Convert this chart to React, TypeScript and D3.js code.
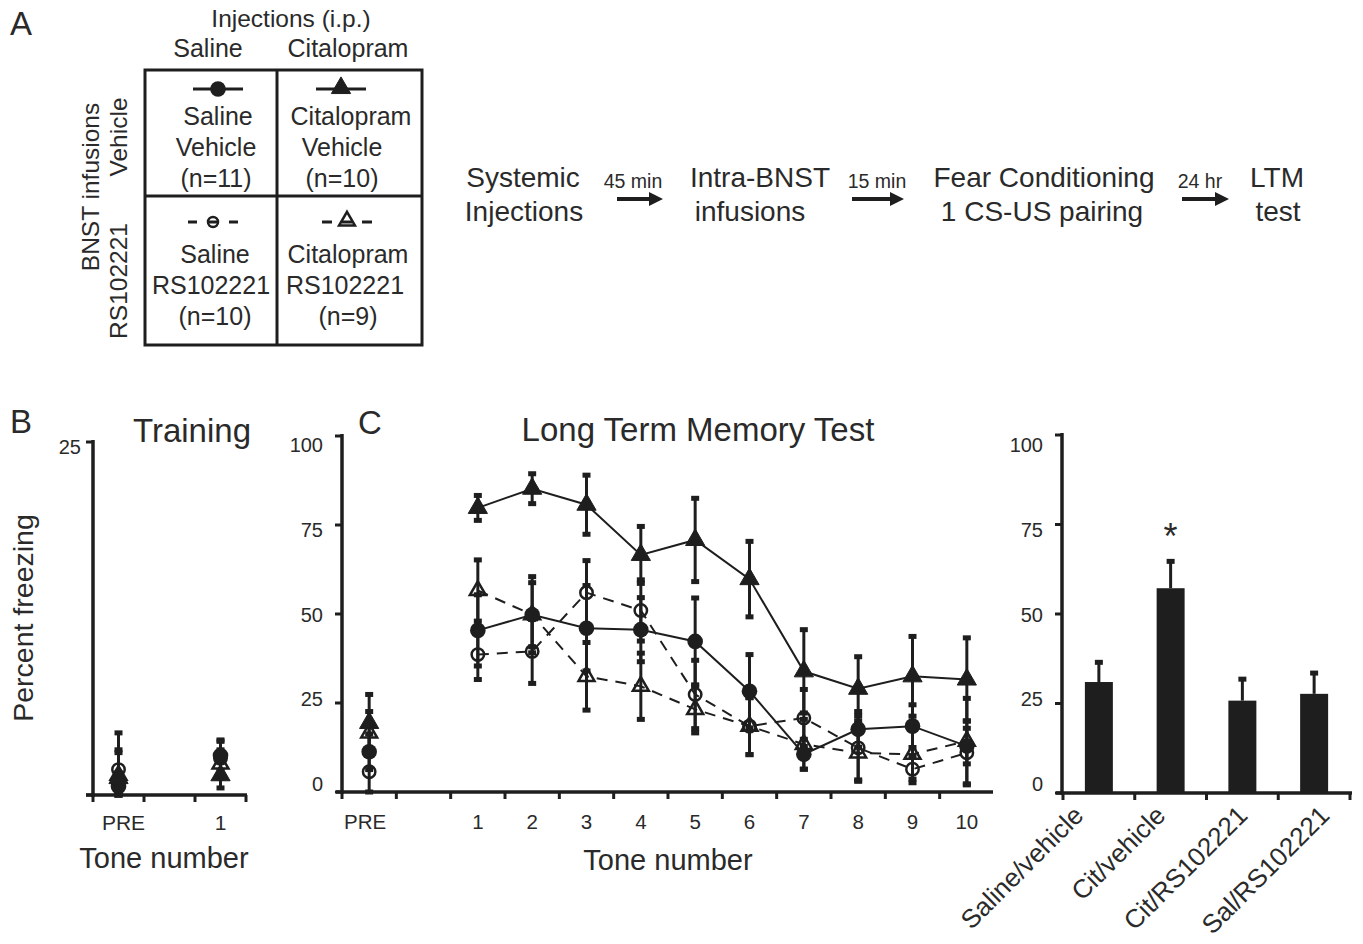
import React from "react";
import * as d3 from "d3";

// ---------- DATA ----------
const ltmSlots = ["PRE", "", "1", "2", "3", "4", "5", "6", "7", "8", "9", "10"];
const ltmTones = ["PRE", "1", "2", "3", "4", "5", "6", "7", "8", "9", "10"];
const ltmYTicks = [0, 25, 50, 75, 100];

const salVehLTM = [11.3, 45.4, 49.8, 46.0, 45.6, 42.3, 28.3, 10.6, 17.6, 18.5, 12.9];
const salVehLTMErr = [5, 10, 10.7, 12, 9, 12.2, 10.3, 4.2, 5, 6, 5];
const citVehLTM = [19.4, 79.8, 85.2, 80.7, 66.6, 70.8, 59.8, 33.9, 29.0, 32.5, 31.6];
const citVehLTMErr = [8, 3.5, 4.2, 8.3, 8, 11.7, 10.6, 11.7, 9, 11.2, 11.7];
const salRsLTM = [5.7, 38.6, 39.5, 56.0, 51.0, 27.4, 18.5, 20.8, 12.4, 6.4, 11.0];
const salRsLTMErr = [5.7, 7, 9, 9, 8.6, 9.6, 8, 8, 9, 3.8, 9];
const citRsLTM = [16.6, 56.6, 49.8, 32.5, 29.7, 23.2, 18.5, 13.4, 11.0, 10.6, 14.3];
const citRsLTMErr = [6, 8.6, 9, 9.5, 9.3, 6.6, 8, 7, 8, 7, 12];

const trainSlots = ["PRE", "", "1"];
const trainTones = ["PRE", "1"];
const trainYTicks = [0, 25];
const salVehTrain = [0.6, 2.8];
const salVehTrainErr = [1, 1.1];
const citVehTrain = [1.2, 1.4];
const citVehTrainErr = [2, 0.9];
const salRsTrain = [1.8, 2.6];
const salRsTrainErr = [2.6, 1.2];
const citRsTrain = [1.4, 2.2];
const citRsTrainErr = [1.6, 1.0];

const barGroups = ["Saline/vehicle", "Cit/vehicle", "Cit/RS102221", "Sal/RS102221"];
const barMeans = [31.0, 57.2, 25.8, 27.7];
const barErrs = [5.5, 7.5, 6.0, 5.8];
const barYTicks = [0, 25, 50, 75, 100];

// ---------- STYLE ----------
const INK = "#1e1e1e";
const TXT = "#2a2a2a";
const FONT = "'Liberation Sans', Arial, Helvetica, sans-serif";

type Shape = "circle" | "triangle";
interface Series {
  values: number[];
  errs: number[];
  shape: Shape;
  filled: boolean;
  dashed: boolean;
}

const ltmSeries: Series[] = [
  { values: salRsLTM, errs: salRsLTMErr, shape: "circle", filled: false, dashed: true },
  { values: citRsLTM, errs: citRsLTMErr, shape: "triangle", filled: false, dashed: true },
  { values: salVehLTM, errs: salVehLTMErr, shape: "circle", filled: true, dashed: false },
  { values: citVehLTM, errs: citVehLTMErr, shape: "triangle", filled: true, dashed: false },
];
const trainSeries: Series[] = [
  { values: salRsTrain, errs: salRsTrainErr, shape: "circle", filled: false, dashed: true },
  { values: citRsTrain, errs: citRsTrainErr, shape: "triangle", filled: false, dashed: true },
  { values: salVehTrain, errs: salVehTrainErr, shape: "circle", filled: true, dashed: false },
  { values: citVehTrain, errs: citVehTrainErr, shape: "triangle", filled: true, dashed: false },
];

function Marker({ x, y, shape, filled }: { x: number; y: number; shape: Shape; filled: boolean }) {
  if (shape === "circle") {
    return filled ? (
      <circle cx={x} cy={y} r={7.8} fill={INK} />
    ) : (
      <circle cx={x} cy={y} r={6.2} fill="none" stroke={INK} strokeWidth={2.5} />
    );
  }
  const d = d3.symbol().type(d3.symbolTriangle).size(filled ? 160 : 110)() as string;
  return (
    <path
      d={d}
      transform={`translate(${x},${y})`}
      fill={filled ? INK : "none"}
      stroke={INK}
      strokeWidth={filled ? 1 : 2.5}
      strokeLinejoin="miter"
    />
  );
}

function ErrBar({ x, y0, y1 }: { x: number; y0: number; y1: number }) {
  return (
    <g>
      <line x1={x} x2={x} y1={y0} y2={y1} stroke={INK} strokeWidth={3} />
      <rect x={x - 4} y={y0 - 2.5} width={8} height={5} fill={INK} />
      <rect x={x - 4} y={y1 - 2.5} width={8} height={5} fill={INK} />
    </g>
  );
}

function Arrow({ x0, x1, y }: { x0: number; x1: number; y: number }) {
  const head = 14;
  return (
    <g>
      <line x1={x0} x2={x1 - head + 2} y1={y} y2={y} stroke={INK} strokeWidth={4} />
      <path d={`M${x1 - head},${y - 7} L${x1},${y} L${x1 - head},${y + 7} Z`} fill={INK} />
    </g>
  );
}

function LinePanel({
  tones,
  series,
  y,
  xCenter,
}: {
  tones: string[];
  series: Series[];
  y: d3.ScaleLinear<number, number>;
  xCenter: (t: string) => number;
}) {
  const line = d3
    .line<[number, number]>()
    .x((d) => d[0])
    .y((d) => d[1]);
  return (
    <g>
      {series.map((s, si) => {
        const pts: [number, number][] = tones
          .map((t, i) => [t, i] as [string, number])
          .filter(([t]) => t !== "PRE")
          .map(([t, i]) => [xCenter(t), y(s.values[i])]);
        if (pts.length < 2) return null;
        return (
          <path
            key={"l" + si}
            d={line(pts) as string}
            fill="none"
            stroke={INK}
            strokeWidth={2}
            strokeDasharray={s.dashed ? "11,8" : undefined}
          />
        );
      })}
      {series.map((s, si) =>
        tones.map((t, i) => (
          <ErrBar
            key={`e${si}-${i}`}
            x={xCenter(t)}
            y0={y(s.values[i] + s.errs[i])}
            y1={y(Math.max(0, s.values[i] - s.errs[i]))}
          />
        ))
      )}
      {series.map((s, si) =>
        tones.map((t, i) => (
          <Marker key={`m${si}-${i}`} x={xCenter(t)} y={y(s.values[i])} shape={s.shape} filled={s.filled} />
        ))
      )}
    </g>
  );
}

export default function App() {
  // Panel C scales
  const ltmX = d3.scaleBand<string>().domain(ltmSlots).range([342, 994]);
  const ltmY = d3.scaleLinear().domain([0, 100]).range([792, 436]);
  const ltmLabelY = d3.scaleLinear().domain([0, 100]).range([784, 445]);
  const ltmCx = (t: string) => (ltmX(t) as number) + ltmX.bandwidth() / 2;

  // Panel B scales
  const trX = d3.scaleBand<string>().domain(trainSlots).range([93, 246]);
  const trY = d3.scaleLinear().domain([0, 25]).range([795, 442]);
  const trCx = (t: string) => (trX(t) as number) + trX.bandwidth() / 2;

  // Bar scales
  const bX = d3.scaleBand<string>().domain(barGroups).range([1063, 1350]);
  const bY = d3.scaleLinear().domain([0, 100]).range([793, 435]);
  const bLabelY = d3.scaleLinear().domain([0, 100]).range([784, 445]);
  const bLabelX = d3.scalePoint<string>().domain(barGroups).range([1085, 1331]);
  const barW = bX.bandwidth() * 0.39;

  const axisW = 3.5;

  return (
    <svg
      width={1363}
      height={944}
      style={{ position: "absolute", left: 0, top: 0, display: "block", background: "#fff" }}
      fontFamily={FONT}
    >
      <rect x={0} y={0} width={1363} height={944} fill="#fff" />

      {/* ---------- Panel A ---------- */}
      <text x={10} y={35} fontSize={33} fill={TXT}>A</text>
      <text x={291} y={27} fontSize={24.5} fill={TXT} textAnchor="middle">Injections (i.p.)</text>
      <text x={208} y={57} fontSize={25} fill={TXT} textAnchor="middle">Saline</text>
      <text x={348} y={57} fontSize={25} fill={TXT} textAnchor="middle">Citalopram</text>

      <rect x={145} y={70} width={277} height={275} fill="none" stroke={INK} strokeWidth={3} />
      <line x1={277} x2={277} y1={70} y2={345} stroke={INK} strokeWidth={3} />
      <line x1={145} x2={422} y1={196} y2={196} stroke={INK} strokeWidth={3} />

      <text transform="translate(99,187) rotate(-90)" fontSize={24.5} fill={TXT} textAnchor="middle">BNST infusions</text>
      <text transform="translate(127,137) rotate(-90)" fontSize={24.5} fill={TXT} textAnchor="middle">Vehicle</text>
      <text transform="translate(127,281) rotate(-90)" fontSize={24.5} fill={TXT} textAnchor="middle">RS102221</text>

      {/* legend glyphs */}
      <line x1={193} x2={243} y1={89} y2={89} stroke={INK} strokeWidth={3} />
      <Marker x={218} y={89} shape="circle" filled={true} />
      <line x1={316} x2={366} y1={89} y2={89} stroke={INK} strokeWidth={3} />
      <Marker x={341} y={88} shape="triangle" filled={true} />
      <line x1={188} x2={238} y1={222} y2={222} stroke={INK} strokeWidth={3} strokeDasharray="9,10,12,10,9" />
      <circle cx={213} cy={222} r={5} fill="none" stroke={INK} strokeWidth={2.5} />
      <line x1={322} x2={372} y1={222} y2={222} stroke={INK} strokeWidth={3} strokeDasharray="10,10,10,10,10" />
      <Marker x={347} y={221} shape="triangle" filled={false} />

      <g fontSize={25} fill={TXT} textAnchor="middle">
        <text x={218} y={125}>Saline</text>
        <text x={216} y={156}>Vehicle</text>
        <text x={216} y={187}>(n=11)</text>
        <text x={351} y={125}>Citalopram</text>
        <text x={342} y={156}>Vehicle</text>
        <text x={342} y={187}>(n=10)</text>
        <text x={215} y={263}>Saline</text>
        <text x={211} y={294}>RS102221</text>
        <text x={215} y={325}>(n=10)</text>
        <text x={348} y={263}>Citalopram</text>
        <text x={345} y={294}>RS102221</text>
        <text x={348} y={325}>(n=9)</text>
      </g>

      {/* protocol flow */}
      <g fontSize={28} fill={TXT} textAnchor="middle">
        <text x={523} y={187}>Systemic</text>
        <text x={524} y={221}>Injections</text>
        <text x={760} y={187}>Intra-BNST</text>
        <text x={750} y={221}>infusions</text>
        <text x={1044} y={187}>Fear Conditioning</text>
        <text x={1042} y={221}>1 CS-US pairing</text>
        <text x={1277} y={187}>LTM</text>
        <text x={1278} y={221}>test</text>
      </g>
      <g fontSize={19.5} fill={TXT} textAnchor="middle">
        <text x={633} y={188}>45 min</text>
        <text x={877} y={188}>15 min</text>
        <text x={1200} y={188}>24 hr</text>
      </g>
      <Arrow x0={617} x1={663} y={199} />
      <Arrow x0={852} x1={904} y={199} />
      <Arrow x0={1182} x1={1229} y={199} />

      {/* ---------- Panel B ---------- */}
      <text x={10} y={433} fontSize={33} fill={TXT}>B</text>
      <text x={192} y={442} fontSize={33} fill={TXT} textAnchor="middle">Training</text>
      <text transform="translate(33,618) rotate(-90)" fontSize={28.5} fill={TXT} textAnchor="middle">Percent freezing</text>
      <line x1={93} x2={93} y1={440} y2={797} stroke={INK} strokeWidth={axisW} />
      <line x1={86} x2={247} y1={795} y2={795} stroke={INK} strokeWidth={axisW} />
      {trainYTicks.map((t) => (
        <line key={"bt" + t} x1={86} x2={93} y1={trY(t)} y2={trY(t)} stroke={INK} strokeWidth={3} />
      ))}
      <text x={81} y={trY(25) + 12} fontSize={20} fill={TXT} textAnchor="end">25</text>
      {d3.range(trainSlots.length + 1).map((k) => {
        const xx = 93 + k * trX.bandwidth();
        return <line key={"bx" + k} x1={xx} x2={xx} y1={795} y2={802} stroke={INK} strokeWidth={3} />;
      })}
      {trainTones.map((t) => (
        <text key={"bl" + t} x={trCx(t) + (t === "PRE" ? 5 : 0)} y={830} fontSize={21} fill={TXT} textAnchor="middle">{t}</text>
      ))}
      <text x={164} y={868} fontSize={29} fill={TXT} textAnchor="middle">Tone number</text>
      <LinePanel tones={trainTones} series={trainSeries} y={trY} xCenter={trCx} />

      {/* ---------- Panel C ---------- */}
      <text x={358} y={434} fontSize={33} fill={TXT}>C</text>
      <text x={698} y={441} fontSize={33} fill={TXT} textAnchor="middle">Long Term Memory Test</text>
      <line x1={342} x2={342} y1={434} y2={794} stroke={INK} strokeWidth={axisW} />
      <line x1={336} x2={993} y1={792} y2={792} stroke={INK} strokeWidth={axisW} />
      {ltmYTicks.map((t) => (
        <g key={"cy" + t}>
          <line x1={335} x2={342} y1={ltmY(t)} y2={ltmY(t)} stroke={INK} strokeWidth={3} />
          <text x={323} y={ltmLabelY(t) + 7} fontSize={20} fill={TXT} textAnchor="end">{t}</text>
        </g>
      ))}
      {d3.range(ltmSlots.length).map((k) => {
        const xx = 342 + k * ltmX.bandwidth();
        return <line key={"cx" + k} x1={xx} x2={xx} y1={792} y2={799} stroke={INK} strokeWidth={3} />;
      })}
      {ltmTones.map((t) => (
        <text key={"cl" + t} x={ltmCx(t) - (t === "PRE" ? 4 : 0)} y={829} fontSize={20.5} fill={TXT} textAnchor="middle">{t}</text>
      ))}
      <text x={668} y={870} fontSize={29} fill={TXT} textAnchor="middle">Tone number</text>
      <LinePanel tones={ltmTones} series={ltmSeries} y={ltmY} xCenter={ltmCx} />

      {/* ---------- Bar panel ---------- */}
      <line x1={1062} x2={1062} y1={433} y2={795} stroke={INK} strokeWidth={axisW} />
      <line x1={1056} x2={1352} y1={793} y2={793} stroke={INK} strokeWidth={axisW} />
      {barYTicks.map((t) => (
        <g key={"dy" + t}>
          <line x1={1055} x2={1062} y1={bY(t)} y2={bY(t)} stroke={INK} strokeWidth={3} />
          <text x={1043} y={bLabelY(t) + 7} fontSize={20} fill={TXT} textAnchor="end">{t}</text>
        </g>
      ))}
      {d3.range(barGroups.length + 1).map((k) => {
        const xx = 1063 + k * bX.bandwidth();
        return <line key={"dx" + k} x1={xx} x2={xx} y1={793} y2={800} stroke={INK} strokeWidth={3} />;
      })}
      {barGroups.map((g, i) => {
        const cx = (bX(g) as number) + bX.bandwidth() / 2;
        return (
          <g key={"bar" + g}>
            <line x1={cx} x2={cx} y1={bY(barMeans[i])} y2={bY(barMeans[i] + barErrs[i])} stroke={INK} strokeWidth={3} />
            <rect x={cx - 4} y={bY(barMeans[i] + barErrs[i]) - 2.5} width={8} height={5} fill={INK} />
            <rect x={cx - barW / 2} y={bY(barMeans[i])} width={barW} height={bY(0) - bY(barMeans[i])} fill={INK} />
            <text
              transform={`translate(${bLabelX(g)},${817}) rotate(-45)`}
              fontSize={26}
              fill={TXT}
              textAnchor="end"
            >
              {g}
            </text>
          </g>
        );
      })}
      <text
        x={(bX("Cit/vehicle") as number) + bX.bandwidth() / 2}
        y={bY(barMeans[1] + barErrs[1]) - 12}
        fontSize={36}
        fill={TXT}
        textAnchor="middle"
      >
        *
      </text>
    </svg>
  );
}
